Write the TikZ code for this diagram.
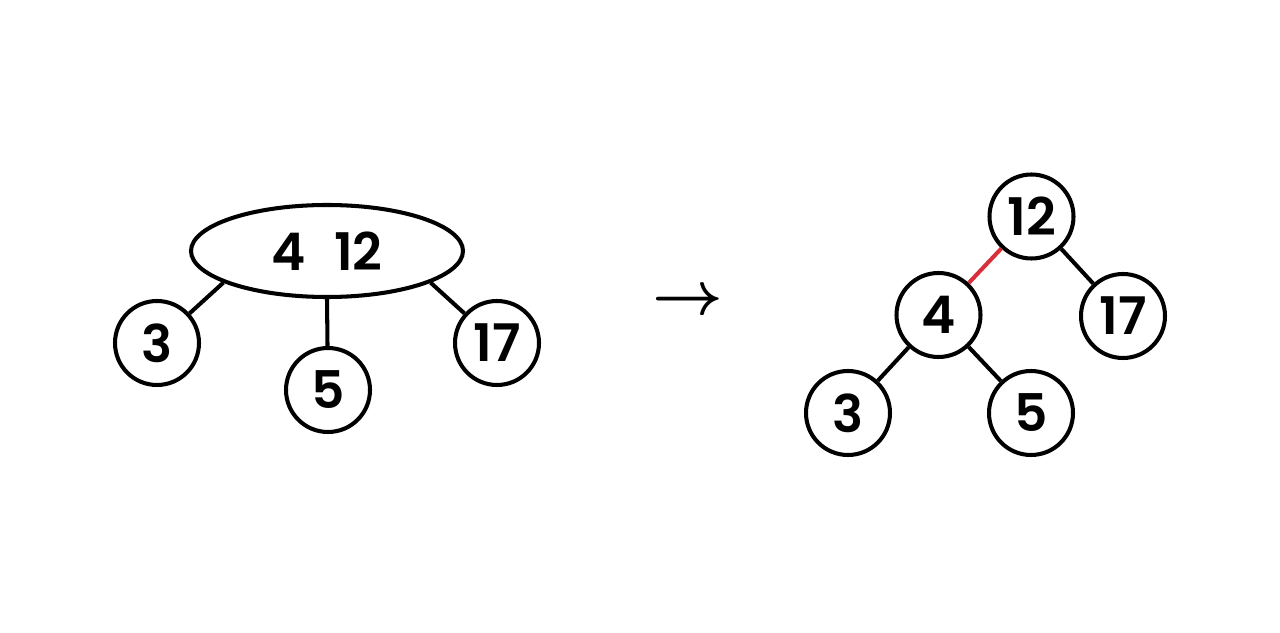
\documentclass[tikz,border=0pt]{standalone}
\usepackage{fontspec}
\setmainfont{Poppins}[BoldFont={Poppins SemiBold}]
\usepackage{tikz}
\usetikzlibrary{shapes.geometric}
\definecolor{linkred}{HTML}{D7303A}

\begin{document}
\begin{tikzpicture}[
    every node/.style={font=\fontsize{29.5}{31}\selectfont\bfseries},
    keynode/.style={draw, circle, line width=2.3pt, minimum size=1.68cm, inner sep=0pt},
    edge/.style={line width=2.3pt}]
        \useasboundingbox (0,0) rectangle (25.6,12.64);

        % Left -- 3-node with two keys
        \node[draw, ellipse, line width=2.3pt, minimum width=5.44cm, minimum height=1.84cm, inner sep=0pt] (lTop) at (6.54,7.62) {4\hspace{0.55em}12};
        \node[keynode] (lA) at (3.14,5.78) {3};
        \node[keynode] (lB) at (6.56,4.84) {5};
        \node[keynode] (lC) at (9.94,5.78) {17};
        \draw[edge] (lTop.197) -- (lA);
        \draw[edge] (lTop.south) -- (lB);
        \draw[edge] (lTop.-17) -- (lC);

        % Middle -- arrow
        \node[scale=3.5, font=\normalsize\boldmath] (arr) at (13.76,6.6) {$\rightarrow$};

        % Right -- red-black tree
        \node[keynode] (rTop) at (20.63,8.31) {12};
        \node[keynode] (rL) at (18.77,6.34) {4};
        \node[keynode] (rR) at (22.46,6.32) {17};
        \node[keynode] (rLL) at (16.96,4.38) {3};
        \node[keynode] (rLR) at (20.62,4.38) {5};
        \draw[edge, linkred] (rTop) -- (rL);
        \draw[edge] (rTop) -- (rR);
        \draw[edge] (rL) -- (rLL);
        \draw[edge] (rL) -- (rLR);
      \end{tikzpicture}
\end{document}
